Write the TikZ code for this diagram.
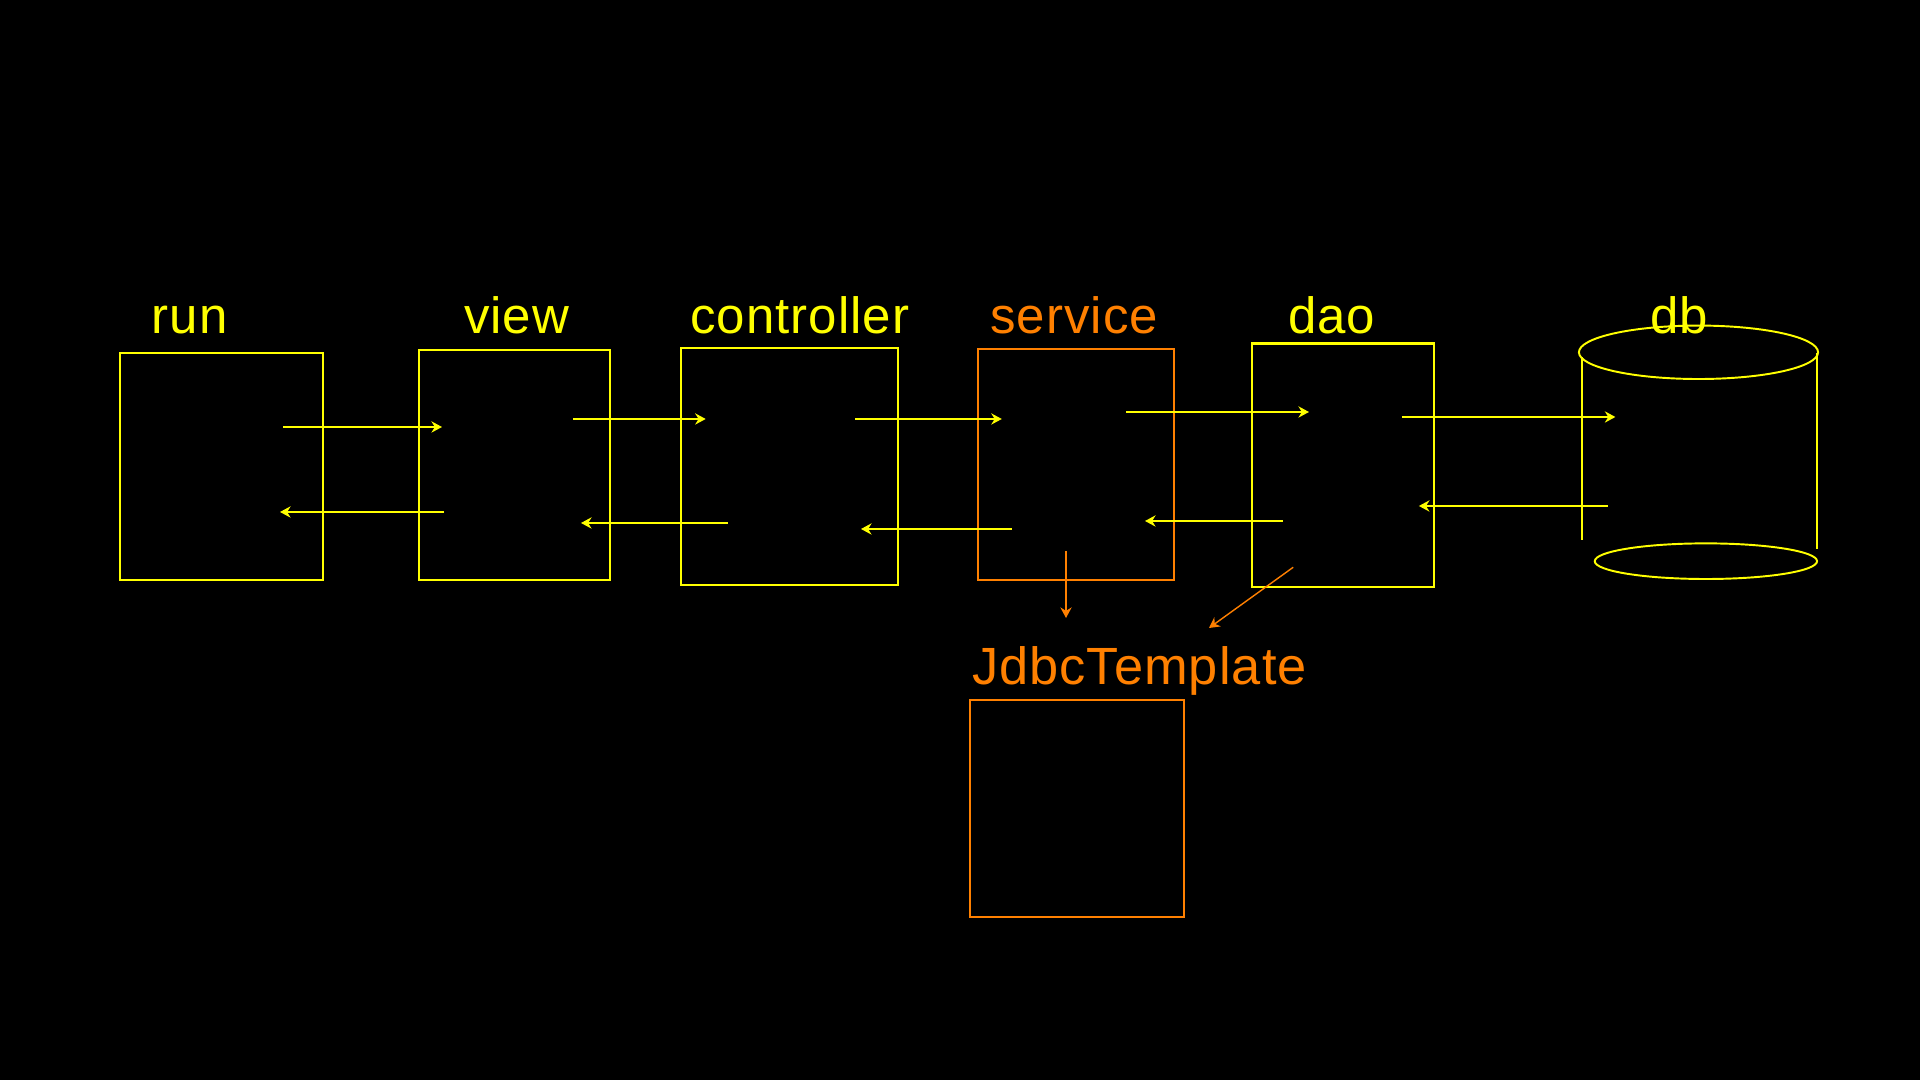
\documentclass[tikz,border=0pt]{standalone}
\usepackage{fontspec}
\setmainfont{Liberation Sans}[LetterSpace=2]
\usetikzlibrary{arrows.meta}
\definecolor{ylw}{RGB}{255,255,0}
\definecolor{org}{RGB}{255,128,0}
\tikzset{
  box/.style={draw, line width=0.65pt, inner sep=0pt, outer sep=0pt},
  lbl/.style={anchor=base west, inner sep=0pt, outer sep=0pt, font=\fontsize{14.5pt}{17pt}\selectfont},
  conn/.style={line width=0.5pt, -{Stealth[length=3pt, width=3.2pt]}},
  cyl/.style={draw=ylw, line width=0.55pt}
}
\begin{document}
\begin{tikzpicture}[x=0.01cm, y=-0.01cm]
\fill[black] (0,0) rectangle (1920,1080);
\useasboundingbox (0,0) rectangle (1920,1080);

% boxes
\node[box, draw=ylw, minimum width=2.03cm, minimum height=2.27cm] (run) at (221.5,466.5) {};
\node[box, draw=ylw, minimum width=1.91cm, minimum height=2.30cm] (view) at (514.5,465) {};
\node[box, draw=ylw, minimum width=2.17cm, minimum height=2.37cm] (controller) at (789.5,466.3) {};
\node[box, draw=org, minimum width=1.96cm, minimum height=2.31cm] (service) at (1076.1,464.5) {};
\node[box, draw=ylw, minimum width=1.82cm, minimum height=2.43cm] (dao) at (1342.8,465.2) {};
\node[box, draw=org, minimum width=2.14cm, minimum height=2.17cm] (jdbc) at (1077,808.5) {};

% db cylinder
\draw[cyl] (1698.5,352.3) ellipse [x radius=1.195cm, y radius=0.267cm];
\draw[cyl] (1705.9,561.2) ellipse [x radius=1.111cm, y radius=0.178cm];
\coordinate (dbl1) at (1581.8,357);
\coordinate (dbl2) at (1581.8,540);
\coordinate (dbr1) at (1816.7,353);
\coordinate (dbr2) at (1816.7,549);
\draw[cyl] (dbl1) -- (dbl2);
\draw[cyl] (dbr1) -- (dbr2);

% labels
\node[lbl, text=ylw] (runL) at (151.7,334) {run};
\node[lbl, text=ylw] (viewL) at (464,334) {view};
\node[lbl, text=ylw] (controllerL) at (690.4,334) {controller};
\node[lbl, text=org] (serviceL) at (990.4,334) {service};
\node[lbl, text=ylw] (daoL) at (1288,334) {dao};
\node[lbl, text=ylw] (dbL) at (1650.2,334) {db};
\node[lbl, text=org, font=\fontsize{14.9pt}{18pt}\selectfont] (jdbcL) at (972,685) {JdbcTemplate};

% connector end points
\coordinate (a1s) at (283,427);    \coordinate (a1e) at (442,427);
\coordinate (a2s) at (444,512);    \coordinate (a2e) at (280,512);
\coordinate (a3s) at (573,419);    \coordinate (a3e) at (705.7,419);
\coordinate (a4s) at (727.9,523);  \coordinate (a4e) at (581,523);
\coordinate (a5s) at (855,419);    \coordinate (a5e) at (1001.8,419);
\coordinate (a6s) at (1011.8,529); \coordinate (a6e) at (861,529);
\coordinate (a7s) at (1126.1,412); \coordinate (a7e) at (1309,412);
\coordinate (a8s) at (1282.5,521); \coordinate (a8e) at (1145,521);
\coordinate (a9s) at (1401.9,417); \coordinate (a9e) at (1615.4,417);
\coordinate (a10s) at (1607.5,506); \coordinate (a10e) at (1418.9,506);
\coordinate (a11s) at (1066,551);  \coordinate (a11e) at (1066,618);
\coordinate (a12s) at (1293.2,567.3); \coordinate (a12e) at (1209,628);

\draw[conn, ylw] (a1s) -- (a1e);
\draw[conn, ylw] (a2s) -- (a2e);
\draw[conn, ylw] (a3s) -- (a3e);
\draw[conn, ylw] (a4s) -- (a4e);
\draw[conn, ylw] (a5s) -- (a5e);
\draw[conn, ylw] (a6s) -- (a6e);
\draw[conn, ylw] (a7s) -- (a7e);
\draw[conn, ylw] (a8s) -- (a8e);
\draw[conn, ylw] (a9s) -- (a9e);
\draw[conn, ylw] (a10s) -- (a10e);
\draw[conn, org] (a11s) -- (a11e);
\draw[conn, org, line width=0.4pt] (a12s) -- (a12e);
\end{tikzpicture}
\end{document}
